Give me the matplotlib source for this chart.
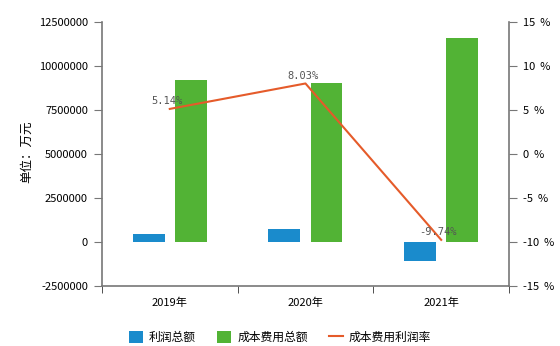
import matplotlib
matplotlib.use("Agg")
import matplotlib.pyplot as plt
import numpy as np
from matplotlib.ticker import FuncFormatter

plt.rcParams['font.family'] = ['Noto Sans CJK SC', 'DejaVu Sans']

# Data
years = ["2019年", "2020年", "2021年"]
profit_total = [440000, 725000, -1060000]        # 利润总额
cost_total = [9200000, 9030000, 11600000]        # 成本费用总额
profit_rate = [5.14, 8.03, -9.74]                # 成本费用利润率 (%)
rate_labels = ["5.14%", "8.03%", "-9.74%"]

blue = "#1a8bcc"
green = "#52b335"
orange = "#e55b2a"
axis_gray = "#777777"

fig = plt.figure(figsize=(5.6, 3.46), dpi=100)
ax = fig.add_axes([0.182, 0.173, 0.727, 0.763])

x = np.arange(len(years))
w = 0.235
off = 0.155
ax.bar(x - off, profit_total, w, color=blue, label="利润总额", zorder=2)
ax.bar(x + off, cost_total, w, color=green, label="成本费用总额", zorder=2)

ax.set_xlim(-0.5, 2.5)
ax.set_ylim(-2500000, 12500000)
ax.set_yticks(np.arange(-2500000, 12500001, 2500000))
ax.yaxis.set_major_formatter(FuncFormatter(lambda v, p: f"{int(v)}"))
ax.set_xticks(x)
ax.set_xticklabels(years)
ax.set_xticks([-0.5, 0.5, 1.5, 2.5], minor=True)
ax.tick_params(axis='x', which='major', length=0, pad=8, labelsize=8)
ax.tick_params(axis='x', which='minor', length=5, color="#333333", direction='out')
ax.tick_params(axis='y', length=6, color=axis_gray, labelsize=8, pad=4)
ax.set_ylabel("单位：万元", fontsize=9)
ax.yaxis.set_label_coords(-0.17, 0.51)

for side in ["top", "right"]:
    ax.spines[side].set_visible(False)
for side in ["left", "bottom"]:
    ax.spines[side].set_color(axis_gray)
    ax.spines[side].set_linewidth(1.2)

# Right axis: percentage line
ax2 = ax.twinx()
ax2.plot(x, profit_rate, color=orange, linewidth=1.5, label="成本费用利润率", zorder=3)
ax2.set_ylim(-15, 15)
ax2.set_yticks(np.arange(-15, 16, 5))
ax2.yaxis.set_major_formatter(FuncFormatter(lambda v, p: f"{int(v)}  %"))
ax2.tick_params(axis='y', length=6, color=axis_gray, labelsize=8, pad=4)
for side in ["top", "left", "bottom"]:
    ax2.spines[side].set_visible(False)
ax2.spines["right"].set_color(axis_gray)
ax2.spines["right"].set_linewidth(1.2)

for xi, yi, lab in zip(x, profit_rate, rate_labels):
    ax2.annotate(lab, (xi, yi), xytext=(-2, 2), textcoords="offset points",
                 ha="center", va="bottom", fontsize=7.5, color="#555555",
                 family=["DejaVu Sans Mono", "DejaVu Sans"])

# Legend
h1, l1 = ax.get_legend_handles_labels()
h2, l2 = ax2.get_legend_handles_labels()
fig.legend(h1 + h2, l1 + l2, loc="center", bbox_to_anchor=(0.5, 0.025),
           ncol=3, frameon=False, fontsize=8.5, handlelength=1.2,
           handleheight=1.2, columnspacing=1.8, handletextpad=0.5)

fig.savefig("out.png", dpi=100)
